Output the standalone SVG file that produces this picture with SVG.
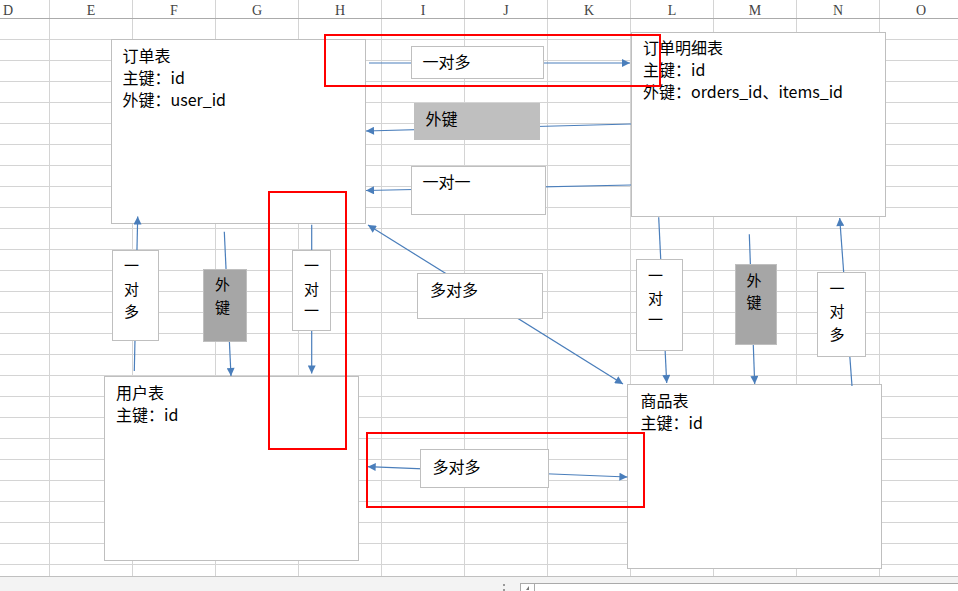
<svg xmlns="http://www.w3.org/2000/svg" width="958" height="591" viewBox="0 0 958 591">
<style>
.grid{stroke:#d4d4d4;stroke-width:1;fill:none}
.hdr{font-family:"Liberation Serif","DejaVu Serif",serif;font-size:14px;fill:#444;text-anchor:middle}
.box{fill:#fff;stroke:#bfbfbf;stroke-width:1}
.g1{fill:#bfbfbf;stroke:#bfbfbf;stroke-width:1}
.g2{fill:#a6a6a6;stroke:#bfbfbf;stroke-width:1}
.t{font-family:"Noto Sans CJK SC","Noto Sans",sans-serif;font-size:16px;fill:#000}
.vt{font-family:"Noto Sans CJK SC","Noto Sans",sans-serif;font-size:15px;fill:#000;text-anchor:middle}
.c{stroke:#4a7ebb;stroke-width:1.2;fill:none;marker-end:url(#ah)}
.cb{stroke:#4a7ebb;stroke-width:1.2;fill:none;marker-end:url(#ah);marker-start:url(#ah)}
.red{fill:none;stroke:#ff0000;stroke-width:2}
</style>
<defs>
<marker id="ah" viewBox="0 0 10 10" refX="10" refY="5" markerWidth="9" markerHeight="8" markerUnits="userSpaceOnUse" orient="auto-start-reverse">
<path d="M0,0 L10,5 L0,10 z" fill="#4a7ebb"/>
</marker>
</defs>
<rect x="0" y="0" width="958" height="591" fill="#fff"/>
<g id="grid">
<path class="grid" d="M49.5,0V576M132.5,0V576M215.5,0V576M298.5,0V576M381.5,0V576M464.5,0V576M547.5,0V576M630.5,0V576M713.5,0V576M796.5,0V576M879.5,0V576"/>
<path class="grid" d="M0,39.5H958M0,60.5H958M0,81.5H958M0,102.5H958M0,123.5H958M0,144.5H958M0,165.5H958M0,186.5H958M0,207.5H958M0,228.5H958M0,249.5H958M0,270.5H958M0,291.5H958M0,312.5H958M0,333.5H958M0,354.5H958M0,375.5H958M0,396.5H958M0,417.5H958M0,438.5H958M0,459.5H958M0,480.5H958M0,501.5H958M0,522.5H958M0,543.5H958M0,564.5H958"/>
<path d="M0,18.5H958" stroke="#ababab" stroke-width="1"/>
</g>
<g id="header">
<text class="hdr" x="8" y="15">D</text>
<text class="hdr" x="91" y="15">E</text>
<text class="hdr" x="174" y="15">F</text>
<text class="hdr" x="257" y="15">G</text>
<text class="hdr" x="340" y="15">H</text>
<text class="hdr" x="423" y="15">I</text>
<text class="hdr" x="506" y="15">J</text>
<text class="hdr" x="589" y="15">K</text>
<text class="hdr" x="672" y="15">L</text>
<text class="hdr" x="755" y="15">M</text>
<text class="hdr" x="838" y="15">N</text>
<text class="hdr" x="921" y="15">O</text>
</g>
<g id="statusbar">
<rect x="0" y="576" width="958" height="15" fill="#f3f3f3"/>
<path d="M0,576.5H958" stroke="#c0c0c0" stroke-width="1"/>
<rect x="503" y="584" width="2" height="2" fill="#999"/>
<rect x="503" y="589" width="2" height="2" fill="#999"/>
<rect x="520.5" y="583.5" width="440" height="10" fill="#fff" stroke="#aaa" stroke-width="1"/>
<path d="M534.5,584V591" stroke="#aaa" stroke-width="1"/>
<path d="M529,586 L526,590 L529,590 z" fill="#777"/>
</g>
<g id="orders">
<rect class="box" x="111.5" y="39.5" width="254" height="184"/>
<text class="t" x="122.5" y="61.5">订单表</text>
<text class="t" x="122.5" y="83.5">主键：id</text>
<text class="t" x="122.5" y="105.5">外键：user_id</text>
</g>
<g id="orderdetail">
<rect class="box" x="631.5" y="32.5" width="254" height="184"/>
<text class="t" x="643" y="54">订单明细表</text>
<text class="t" x="643" y="76">主键：id</text>
<text class="t" x="643" y="98">外键：orders_id、items_id</text>
</g>
<g id="user">
<rect class="box" x="104.5" y="376.5" width="254" height="184"/>
<text class="t" x="116" y="398.5">用户表</text>
<text class="t" x="116" y="420.5">主键：id</text>
</g>
<g id="items">
<rect class="box" x="627.5" y="384.5" width="254" height="184"/>
<text class="t" x="640.5" y="406.5">商品表</text>
<text class="t" x="640.5" y="428.5">主键：id</text>
</g>
<g id="connectors">
<line class="c" x1="369" y1="63" x2="630" y2="63"/>
<line class="c" x1="631" y1="124" x2="366" y2="131"/>
<line class="c" x1="631" y1="185" x2="366" y2="190.5"/>
<line class="cb" x1="368" y1="225" x2="623" y2="384"/>
<line class="c" x1="134.3" y1="371" x2="137.7" y2="216.5"/>
<line class="c" x1="224.3" y1="231.7" x2="231" y2="376"/>
<line class="c" x1="311.7" y1="224.7" x2="311.7" y2="373.5"/>
<line class="c" x1="658.7" y1="217.3" x2="666.7" y2="383"/>
<line class="c" x1="749.3" y1="234.3" x2="754.7" y2="384"/>
<line class="c" x1="852" y1="386" x2="839.7" y2="218"/>
<line class="cb" x1="367.7" y1="466.7" x2="627.4" y2="477"/>
</g>
<g id="lbl-o2d-1n">
<rect class="box" x="411.5" y="46.5" width="132" height="32"/>
<text class="t" x="422.5" y="67.5">一对多</text>
</g>
<g id="lbl-o2d-fk">
<rect class="g1" x="414.5" y="103.5" width="125" height="36"/>
<text class="t" x="425.5" y="125">外键</text>
</g>
<g id="lbl-o2d-11">
<rect class="box" x="411.5" y="166.5" width="134" height="48"/>
<text class="t" x="422.5" y="187.5">一对一</text>
</g>
<g id="lbl-o2i-nn">
<rect class="box" x="417.5" y="273.5" width="125" height="45"/>
<text class="t" x="430" y="296">多对多</text>
</g>
<g id="lbl-u2o-1n">
<rect class="box" x="112.5" y="250.5" width="46" height="90"/>
<text class="vt" x="131.5" y="271">一<tspan x="131.5" y="294.5">对</tspan><tspan x="131.5" y="317">多</tspan></text>
</g>
<g id="lbl-o2u-fk">
<rect class="g2" x="203.5" y="269.5" width="43" height="72"/>
<text class="vt" x="222.5" y="289.5">外<tspan x="222.5" y="312.5">键</tspan></text>
</g>
<g id="lbl-o2u-11">
<rect class="box" x="292.5" y="250.5" width="38" height="80"/>
<text class="vt" x="311.5" y="271">一<tspan x="311.5" y="294.5">对</tspan><tspan x="311.5" y="316">一</tspan></text>
</g>
<g id="lbl-d2i-11">
<rect class="box" x="636.5" y="259.5" width="46" height="91"/>
<text class="vt" x="655.5" y="280.5">一<tspan x="655.5" y="304">对</tspan><tspan x="655.5" y="325">一</tspan></text>
</g>
<g id="lbl-d2i-fk">
<rect class="g2" x="735.5" y="264.5" width="41" height="80"/>
<text class="vt" x="754" y="286">外<tspan x="754" y="307.5">键</tspan></text>
</g>
<g id="lbl-i2d-1n">
<rect class="box" x="817.5" y="272.5" width="48" height="84"/>
<text class="vt" x="837" y="294">一<tspan x="837" y="317">对</tspan><tspan x="837" y="339.5">多</tspan></text>
</g>
<g id="lbl-u2i-nn">
<rect class="box" x="420.5" y="449.5" width="128" height="38"/>
<text class="t" x="432.5" y="472.5">多对多</text>
</g>
<g id="highlights">
<rect class="red" x="325" y="35" width="335" height="51"/>
<rect class="red" x="269" y="192" width="77" height="257"/>
<rect class="red" x="367" y="433" width="277" height="74"/>
</g>
</svg>
